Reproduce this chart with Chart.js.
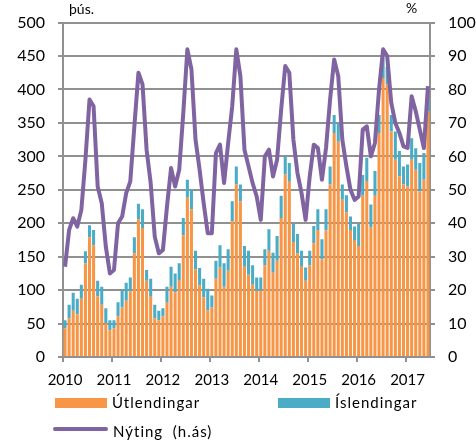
<!DOCTYPE html>
<html>
<head>
<meta charset="utf-8">
<script src="https://cdn.jsdelivr.net/npm/chart.js@4.4.0/dist/chart.umd.min.js"></script>
<style>
    body { margin: 0; background: #fff; }
    .wrap { position: relative; width: 476px; height: 442px; font-family: Lato, 'Liberation Sans', sans-serif; color: #000; }
    canvas { position: absolute; left: 0; top: 0; }
    .unit { position: absolute; font-size: 14px; line-height: 14px; }
    .legend-box { position: absolute; width: 52px; height: 10px; }
    .legend-line { position: absolute; width: 55px; height: 4px; border-radius: 2px; }
    .legend-text { position: absolute; font-size: 15px; line-height: 15px; letter-spacing: 1px; white-space: pre; }
</style>
</head>
<body>
<div class="wrap">
    <canvas id="hotelChart" width="476" height="442"></canvas>
    <span class="unit" style="left:69px; top:2px;">þús.</span>
    <span class="unit" style="left:406px; top:1px;">%</span>

    <div class="legend-box" style="left:55px; top:398px; background:#F79646;"></div>
    <span class="legend-text" style="left:112px; top:395px;">Útlendingar</span>
    <div class="legend-box" style="left:278px; top:398px; background:#4BACC6;"></div>
    <span class="legend-text" style="left:335px; top:395px;">Íslendingar</span>
    <div class="legend-line" style="left:53px; top:427px; background:#8064A2;"></div>
    <span class="legend-text" style="left:113px; top:424px;">Nýting  (h.ás)</span>
</div>

<script>
// Colours used in the chart
const ORANGE = '#F79646';
const TEAL = '#4BACC6';
const PURPLE = '#8064A2';
const GRID = '#919191';

// Years on the x axis, one category per month (Jan 2010 - Jun 2017)
const years = ['2010', '2011', '2012', '2013', '2014', '2015', '2016', '2017'];
const monthsInLastYear = 6;

// Gistinætur, þús. (foreign guests)
const utlendingar = [
    43, 58, 69, 64, 87, 140, 179, 167, 91, 78, 50, 40,
    43, 61, 74, 84, 98, 155, 206, 193, 114, 90, 58, 55,
    61, 81, 105, 97, 115, 182, 238, 221, 131, 107, 89, 70,
    74, 117, 134, 105, 129, 203, 258, 233, 135, 123, 108, 99,
    99, 137, 159, 126, 144, 208, 273, 262, 172, 155, 135, 114,
    137, 170, 190, 146, 189, 258, 335, 322, 235, 216, 190, 175,
    166, 241, 263, 194, 241, 335, 417, 408, 337, 295, 270, 258,
    255, 295, 280, 248, 265, 367
];

// Gistinætur, þús. (Icelandic guests)
const islendingar = [
    12, 20, 27, 23, 21, 18, 18, 23, 23, 27, 23, 15,
    12, 21, 25, 27, 21, 24, 23, 28, 16, 27, 20, 14,
    12, 24, 30, 28, 25, 26, 27, 29, 28, 26, 28, 32,
    18, 27, 33, 35, 32, 30, 27, 25, 31, 36, 29, 20,
    20, 24, 32, 30, 37, 33, 27, 28, 28, 29, 24, 20,
    22, 26, 31, 30, 32, 27, 27, 28, 23, 26, 20, 20,
    34, 31, 35, 34, 37, 27, 31, 26, 25, 42, 38, 27,
    33, 32, 32, 42, 40, 18
];

// Room occupancy, % (right axis)
const nyting = [
    27, 38, 41.5, 39, 44, 59, 77, 75, 51, 46, 33, 25,
    26, 40, 42, 49, 52.5, 69, 85, 81.5, 62, 52, 36, 31,
    32, 45, 56.5, 51, 56, 73, 92, 86, 65, 56, 46, 37,
    37, 61, 63.5, 52, 64, 75, 92, 84, 62, 57, 52, 48,
    41, 60, 62, 54, 59, 74, 87, 85, 65, 55, 49, 41,
    54, 63.5, 62.5, 53, 62.5, 77, 89, 84, 65, 57, 50, 47,
    48, 68, 69, 60, 64, 80, 92, 90, 76, 70, 67, 63,
    62.5, 78, 73.5, 68, 62.5, 81
];

// Build month labels like "2010-1"
const labels = [];
years.forEach((year, yi) => {
    const count = yi === years.length - 1 ? monthsInLastYear : 12;
    for (let m = 1; m <= count; m++) {
        labels.push(`${year}-${m}`);
    }
});

const tickFont = { family: "Lato, 'Liberation Sans', sans-serif", size: 16 };

function createHotelChart(canvasId) {
    const canvas = document.getElementById(canvasId);
    if (!canvas) {
        console.error(`Canvas element with id "${canvasId}" not found`);
        return null;
    }

    const data = {
        labels: labels,
        datasets: [
            {
                type: 'line',
                label: 'Nýting  (h.ás)',
                data: nyting,
                yAxisID: 'y1',
                borderColor: PURPLE,
                borderWidth: 4,
                pointRadius: 0,
                tension: 0,
                borderJoinStyle: 'round',
                order: 0
            },
            {
                type: 'bar',
                label: 'Útlendingar',
                data: utlendingar,
                yAxisID: 'y',
                backgroundColor: ORANGE,
                barPercentage: 0.75,
                categoryPercentage: 1,
                order: 1
            },
            {
                type: 'bar',
                label: 'Íslendingar',
                data: islendingar,
                yAxisID: 'y',
                backgroundColor: TEAL,
                barPercentage: 0.75,
                categoryPercentage: 1,
                order: 1
            }
        ]
    };

    const config = {
        data: data,
        options: {
            responsive: false,
            devicePixelRatio: 1,
            animation: false,
            layout: { padding: { top: 21, left: 0, right: 0, bottom: 0 } },
            plugins: {
                legend: { display: false },
                tooltip: { enabled: false }
            },
            scales: {
                x: {
                    stacked: true,
                    grid: {
                        offset: true,
                        drawOnChartArea: false,
                        tickLength: 5,
                        lineWidth: 2,
                        color: ctx => ctx.index % 12 === 0 ? GRID : 'transparent'
                    },
                    border: { color: GRID, width: 2 },
                    ticks: {
                        autoSkip: false,
                        maxRotation: 0,
                        minRotation: 0,
                        padding: 9,
                        color: '#000',
                        font: { ...tickFont, size: 15 },
                        callback: (value, index) => index % 12 === 0 ? labels[index].slice(0, 4) : ''
                    },
                    afterFit: scale => { scale.height = 85; }
                },
                y: {
                    stacked: true,
                    position: 'left',
                    min: 0,
                    max: 500,
                    ticks: { stepSize: 50, padding: 13, color: '#000', font: tickFont },
                    grid: { color: GRID, lineWidth: 2, tickLength: 5 },
                    border: { color: GRID, width: 2 },
                    afterFit: scale => { scale.width = 63; }
                },
                y1: {
                    position: 'right',
                    min: 0,
                    max: 100,
                    ticks: { stepSize: 10, padding: 13, color: '#000', font: tickFont },
                    grid: { drawOnChartArea: false, color: GRID, lineWidth: 2, tickLength: 5 },
                    border: { color: GRID, width: 2 },
                    afterFit: scale => { scale.width = 46; }
                }
            }
        }
    };

    return new Chart(canvas, config);
}

createHotelChart('hotelChart');
</script>
</body>
</html>
